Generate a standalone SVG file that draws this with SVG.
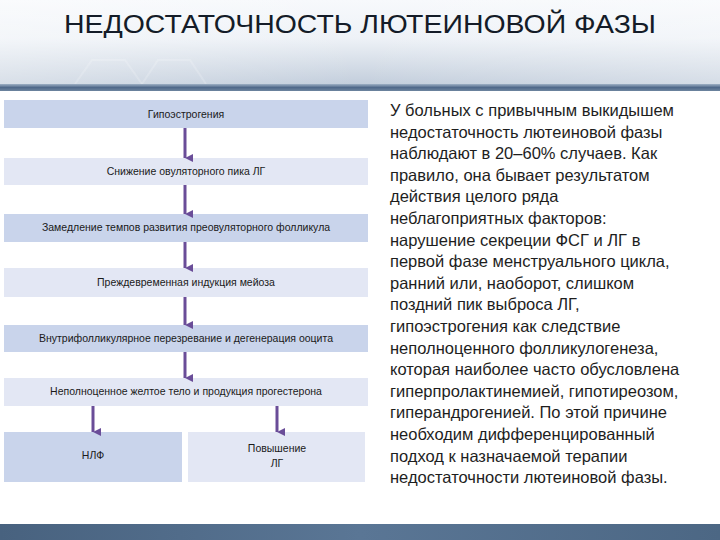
<svg xmlns="http://www.w3.org/2000/svg" width="720" height="540" viewBox="0 0 720 540">
<defs>
<linearGradient id="hdr" x1="0" y1="0" x2="0" y2="1">
<stop offset="0" stop-color="#f7f9fc"/>
<stop offset="0.45" stop-color="#eef2f7"/>
<stop offset="1" stop-color="#c3cedc"/>
</linearGradient>
<linearGradient id="hdrH" x1="0" y1="0" x2="1" y2="0">
<stop offset="0" stop-color="#ffffff" stop-opacity="0.35"/>
<stop offset="0.5" stop-color="#ffffff" stop-opacity="0"/>
<stop offset="1" stop-color="#ffffff" stop-opacity="0.3"/>
</linearGradient>
<linearGradient id="band" x1="0" y1="0" x2="0" y2="1">
<stop offset="0" stop-color="#9fb1c5"/>
<stop offset="0.5" stop-color="#50698a"/>
<stop offset="1" stop-color="#6e859f"/>
</linearGradient>
<linearGradient id="foot" x1="0" y1="0" x2="1" y2="0">
<stop offset="0" stop-color="#48627f"/>
<stop offset="0.5" stop-color="#5a7695"/>
<stop offset="1" stop-color="#4c6784"/>
</linearGradient>
<marker id="ah" viewBox="0 0 8 8" refX="4" refY="8" markerWidth="8" markerHeight="8" markerUnits="userSpaceOnUse" orient="auto-start-reverse">
<path d="M0,0 L8,0 L4,8 Z" fill="#6a4d98"/>
</marker>
</defs>
<style>
.dark{fill:#c9d4eb}
.light{fill:#e3e7f4}
.bt{font-family:"Liberation Sans",Arial,sans-serif;font-size:10.5px;fill:#1a1a1a;text-anchor:middle}
.rt{font-family:"Liberation Sans",Arial,sans-serif;font-size:16.5px;fill:#1e1e1e}
.conn line{stroke:#6a4d98;stroke-width:3;marker-end:url(#ah)}
</style>
<rect width="720" height="540" fill="#ffffff"/>
<g id="header">
<rect x="0" y="0" width="720" height="84" fill="url(#hdr)"/>
<rect x="0" y="0" width="720" height="84" fill="url(#hdrH)"/>
<g fill="none" stroke="#ffffff" stroke-opacity="0.18" stroke-width="2">
<path d="M75,84 L92,60 L125,60 L142,84"/>
<path d="M142,84 L158,60 L190,60 L206,84"/>
</g>
<rect x="0" y="84" width="720" height="7" fill="url(#band)"/>
<text x="360" y="33" text-anchor="middle" font-family="'Liberation Sans',Arial,sans-serif" font-size="26" fill="#141c28" textLength="592" lengthAdjust="spacingAndGlyphs">НЕДОСТАТОЧНОСТЬ ЛЮТЕИНОВОЙ ФАЗЫ</text>
</g>
<rect id="footer" x="0" y="524" width="720" height="16" fill="url(#foot)"/>
<g id="n1"><rect class="dark" x="4" y="100" width="364" height="28"/><text class="bt" x="186" y="118">Гипоэстрогения</text></g>
<g id="n2"><rect class="light" x="4" y="158" width="364" height="27"/><text class="bt" x="186" y="175">Снижение овуляторного пика ЛГ</text></g>
<g id="n3"><rect class="dark" x="4" y="214" width="364" height="28"/><text class="bt" x="186" y="231">Замедление темпов развития преовуляторного фолликула</text></g>
<g id="n4"><rect class="light" x="4" y="268" width="364" height="29"/><text class="bt" x="186" y="286">Преждевременная индукция мейоза</text></g>
<g id="n5"><rect class="dark" x="4" y="325" width="364" height="27"/><text class="bt" x="186" y="342">Внутрифолликулярное перезревание и дегенерация  ооцита</text></g>
<g id="n6"><rect class="light" x="4" y="378" width="364" height="28"/><text class="bt" x="186" y="395">Неполноценное желтое тело и продукция  прогестерона</text></g>
<g id="n7"><rect class="dark" x="4" y="432" width="178" height="50"/><text class="bt" x="93" y="459">НЛФ</text></g>
<g id="n8"><rect class="light" x="188" y="432" width="177" height="50"/><text class="bt" x="277" y="452">Повышение</text><text class="bt" x="277" y="467">ЛГ</text></g>
<g id="connectors" class="conn">
<line x1="185" y1="128" x2="185" y2="158"/>
<line x1="185" y1="185" x2="185" y2="214"/>
<line x1="185" y1="242" x2="185" y2="268"/>
<line x1="185" y1="297" x2="185" y2="325"/>
<line x1="185" y1="352" x2="185" y2="378"/>
<line x1="93" y1="406" x2="93" y2="432"/>
<line x1="277" y1="406" x2="277" y2="432"/>
</g>
<g id="body-text" class="rt">
<text x="390" y="116">У больных с привычным выкидышем</text>
<text x="390" y="137.6">недостаточность лютеиновой фазы</text>
<text x="390" y="159.2">наблюдают в 20–60% случаев. Как</text>
<text x="390" y="180.8">правило, она бывает результатом</text>
<text x="390" y="202.4">действия целого ряда</text>
<text x="390" y="224">неблагоприятных факторов:</text>
<text x="390" y="245.6">нарушение секреции ФСГ и ЛГ в</text>
<text x="390" y="267.2">первой фазе менструального цикла,</text>
<text x="390" y="288.8">ранний или, наоборот, слишком</text>
<text x="390" y="310.4">поздний пик выброса ЛГ,</text>
<text x="390" y="332">гипоэстрогения как следствие</text>
<text x="390" y="353.6">неполноценного фолликулогенеза,</text>
<text x="390" y="375.2">которая наиболее часто обусловлена</text>
<text x="390" y="396.8">гиперпролактинемией, гипотиреозом,</text>
<text x="390" y="418.4">гиперандрогенией. По этой причине</text>
<text x="390" y="440">необходим дифференцированный</text>
<text x="390" y="461.6">подход к назначаемой терапии</text>
<text x="390" y="483.2">недостаточности лютеиновой фазы.</text>
</g>
</svg>
